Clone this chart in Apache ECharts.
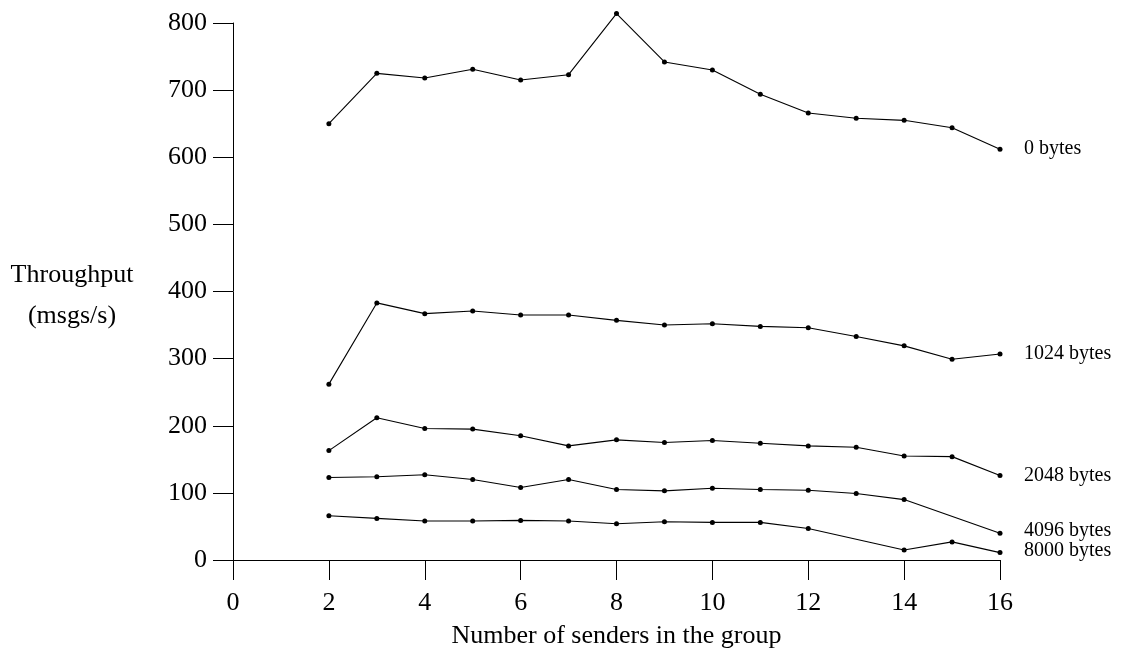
<!DOCTYPE html>
<html><head><meta charset="utf-8">
<script src="https://cdn.jsdelivr.net/npm/echarts@6/dist/echarts.min.js"></script>
<style>html,body{margin:0;padding:0;background:#fff}#c{width:1126px;height:656px}</style>
</head><body><div id="c"></div>
<script>
const xTicks = [0, 2, 4, 6, 8, 10, 12, 14, 16];
const yTicks = [0, 100, 200, 300, 400, 500, 600, 700, 800];
const seriesNames = ['0 bytes', '1024 bytes', '2048 bytes', '4096 bytes', '8000 bytes'];
const x0 = [2,3,4,5,6,7,8,9,10,11,12,13,14,15,16];
const y0 = [650,725,718,731,715,723,814,742,730,694,666,658,655,644,612];
const x1024 = [2,3,4,5,6,7,8,9,10,11,12,13,14,15,16];
const y1024 = [262,383,367,371,365,365,357,350,352,348,346,333,319,299,307];
const x2048 = [2,3,4,5,6,7,8,9,10,11,12,13,14,15,16];
const y2048 = [163,212,196,195,185,170,179,175,178,174,170,168,155,154,126];
const x4096 = [2,3,4,5,6,7,8,9,10,11,12,13,14,16];
const y4096 = [123,124,127,120,108,120,105,103,107,105,104,99,90,40];
const x8000 = [2,3,4,5,6,7,8,9,10,11,12,14,15,16];
const y8000 = [66,62,58,58,59,58,54,57,56,56,47,15,27,11];
const xs = [x0, x1024, x2048, x4096, x8000];
const ys = [y0, y1024, y2048, y4096, y8000];
const labelOffsets = [[0,0],[0,0],[0,0],[0,-2],[0,-2]];

const serif = 'Liberation Serif';
const chart = echarts.init(document.getElementById('c'));
chart.setOption({
  animation: false,
  backgroundColor: '#fff',
  grid: {left: 233, right: 126, top: 23, bottom: 96, containLabel: false},
  xAxis: {
    type: 'value', min: xTicks[0], max: xTicks[xTicks.length-1], interval: 2,
    splitLine: {show: false},
    axisLine: {lineStyle: {color: '#000', width: 1}},
    axisTick: {length: 20, lineStyle: {color: '#000'}},
    axisLabel: {color: '#000', fontFamily: serif, fontSize: 26, margin: 30},
    name: 'Number of senders in the group', nameLocation: 'middle', nameGap: 63,
    nameTextStyle: {color: '#000', fontFamily: serif, fontSize: 26}
  },
  yAxis: {
    type: 'value', min: yTicks[0], max: yTicks[yTicks.length-1], interval: 100,
    splitLine: {show: false},
    axisLine: {show: true, lineStyle: {color: '#000', width: 1}},
    axisTick: {show: true, length: 20, lineStyle: {color: '#000'}},
    axisLabel: {color: '#000', fontFamily: serif, fontSize: 26, margin: 26}
  },
  graphic: [
    {type: 'text', style: {text: 'Throughput', x: 72, y: 275, align: 'center', verticalAlign: 'middle', font: '26px "Liberation Serif"', fill: '#000'}},
    {type: 'text', style: {text: '(msgs/s)', x: 72, y: 316, align: 'center', verticalAlign: 'middle', font: '26px "Liberation Serif"', fill: '#000'}}
  ],
  series: seriesNames.map((n, i) => ({
    name: n, type: 'line', clip: false,
    data: xs[i].map((x, j) => [x, ys[i][j]]),
    symbol: 'circle', symbolSize: 5,
    itemStyle: {color: '#000'},
    lineStyle: {color: '#000', width: 1.1},
    endLabel: {show: true, formatter: '{a}', distance: 24, color: '#000', fontFamily: serif, fontSize: 20, offset: labelOffsets[i]}
  }))
});
</script></body></html>
